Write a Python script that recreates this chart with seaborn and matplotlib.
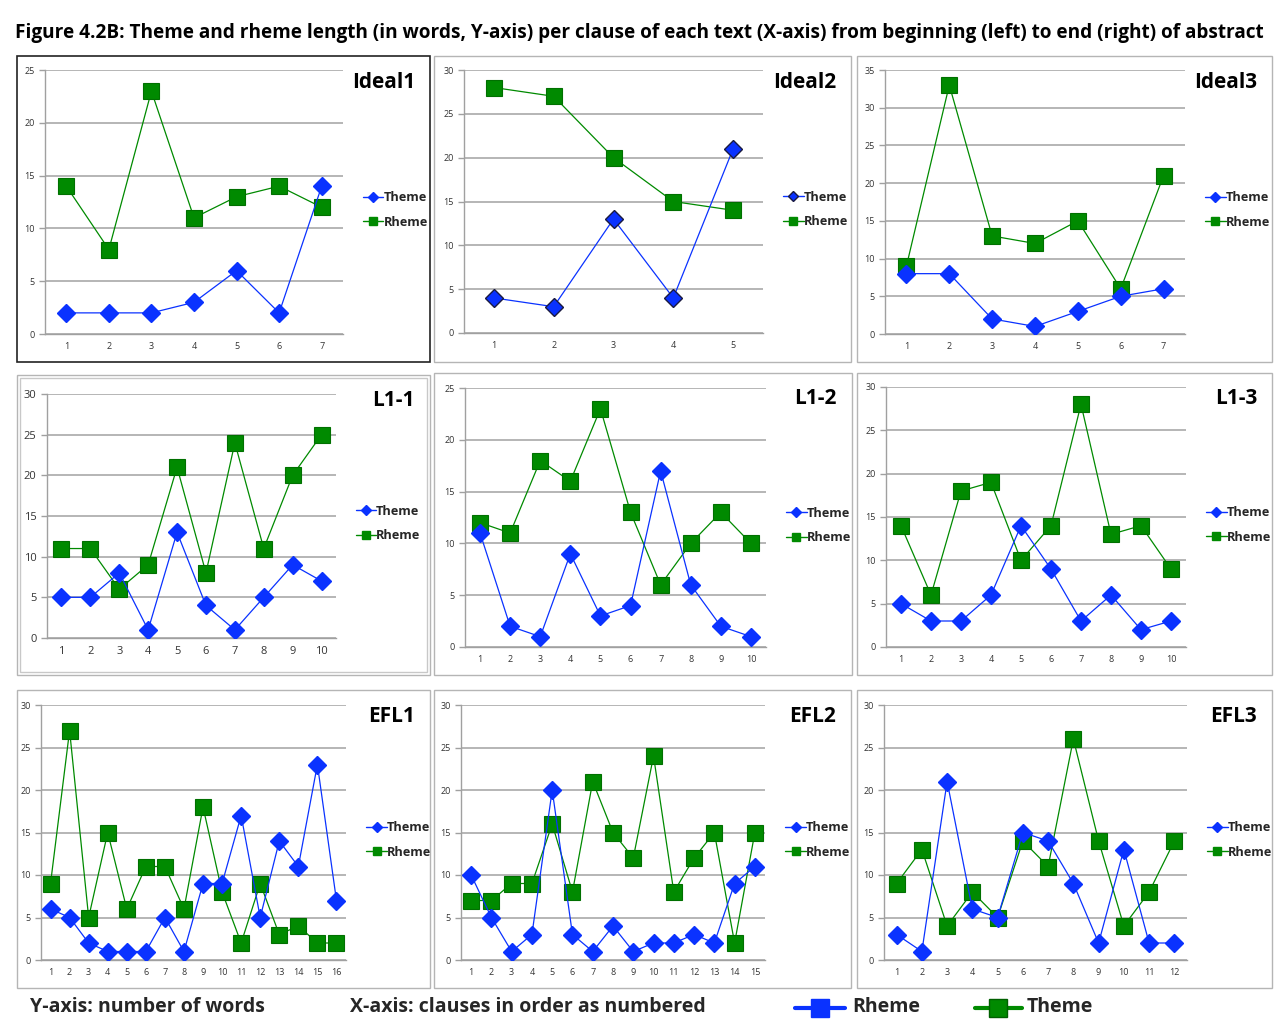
import pandas as pd
import matplotlib.pyplot as plt
import seaborn as sns
from matplotlib.patches import Rectangle
from matplotlib.lines import Line2D

sns.set_theme(style='white')
plt.rcParams['font.family'] = ['Open Sans', 'DejaVu Sans']

# Data: words per clause
panel_names = ['Ideal1', 'Ideal2', 'Ideal3', 'L1-1', 'L1-2', 'L1-3', 'EFL1', 'EFL2', 'EFL3']
y_max = [25, 30, 35, 30, 25, 30, 30, 30, 30]

theme_ideal1 = [2, 2, 2, 3, 6, 2, 14]
rheme_ideal1 = [14, 8, 23, 11, 13, 14, 12]
theme_ideal2 = [4, 3, 13, 4, 21]
rheme_ideal2 = [28, 27, 20, 15, 14]
theme_ideal3 = [8, 8, 2, 1, 3, 5, 6]
rheme_ideal3 = [9, 33, 13, 12, 15, 6, 21]
theme_l1_1 = [5, 5, 8, 1, 13, 4, 1, 5, 9, 7]
rheme_l1_1 = [11, 11, 6, 9, 21, 8, 24, 11, 20, 25]
theme_l1_2 = [11, 2, 1, 9, 3, 4, 17, 6, 2, 1]
rheme_l1_2 = [12, 11, 18, 16, 23, 13, 6, 10, 13, 10]
theme_l1_3 = [5, 3, 3, 6, 14, 9, 3, 6, 2, 3]
rheme_l1_3 = [14, 6, 18, 19, 10, 14, 28, 13, 14, 9]
theme_efl1 = [6, 5, 2, 1, 1, 1, 5, 1, 9, 9, 17, 5, 14, 11, 23, 7]
rheme_efl1 = [9, 27, 5, 15, 6, 11, 11, 6, 18, 8, 2, 9, 3, 4, 2, 2]
theme_efl2 = [10, 5, 1, 3, 20, 3, 1, 4, 1, 2, 2, 3, 2, 9, 11]
rheme_efl2 = [7, 7, 9, 9, 16, 8, 21, 15, 12, 24, 8, 12, 15, 2, 15]
theme_efl3 = [3, 1, 21, 6, 5, 15, 14, 9, 2, 13, 2, 2]
rheme_efl3 = [9, 13, 4, 8, 5, 14, 11, 26, 14, 4, 8, 14]

themes = [theme_ideal1, theme_ideal2, theme_ideal3, theme_l1_1, theme_l1_2,
          theme_l1_3, theme_efl1, theme_efl2, theme_efl3]
rhemes = [rheme_ideal1, rheme_ideal2, rheme_ideal3, rheme_l1_1, rheme_l1_2,
          rheme_l1_3, rheme_efl1, rheme_efl2, rheme_efl3]

BLUE = '#0a32ff'
GREEN = '#008a00'
W, H = 1281, 1030

# pixel boxes: panel frame (x0, y0, x1, y1) and plot area inside it
frames = [(17, 56, 430, 362), (434, 56, 851, 362), (857, 56, 1272, 362),
          (17, 375, 430, 675), (434, 373, 852, 675), (857, 373, 1272, 675),
          (17, 690, 430, 988), (434, 690, 851, 988), (857, 690, 1272, 988)]
plot_areas = [(45, 70, 343, 334), (464, 70, 763, 333), (885, 70, 1185, 334),
              (47, 394, 336, 638), (465, 388, 766, 647), (886, 387, 1186, 647),
              (41, 705, 346, 960), (461, 705, 765, 960), (884, 705, 1187, 960)]


def px_axes(fig, box):
    x0, y0, x1, y1 = box
    return fig.add_axes([x0 / W, 1 - y1 / H, (x1 - x0) / W, (y1 - y0) / H])


fig = plt.figure(figsize=(W / 100, H / 100), dpi=100)

# title, shrunk to span the same width as in the original
title = fig.text(15 / W, 1 - 33 / H,
                 'Figure 4.2B: Theme and rheme length (in words, Y-axis) per clause of each text '
                 '(X-axis) from beginning (left) to end (right) of abstract',
                 fontsize=15, fontweight='bold', va='center', ha='left', color='black')
renderer = fig.canvas.get_renderer()
tw = title.get_window_extent(renderer).width
title.set_fontsize(15 * 1248 / tw)

for i, name in enumerate(panel_names):
    fx0, fy0, fx1, fy1 = frames[i]
    edge = '#222222' if i == 0 else '#b5b5b5'
    lw = 1.2 if i == 0 else 1.0
    fig.add_artist(Rectangle((fx0 / W, 1 - fy1 / H), (fx1 - fx0) / W, (fy1 - fy0) / H,
                             transform=fig.transFigure, fill=False, edgecolor=edge, lw=lw))
    if i == 3:
        fig.add_artist(Rectangle(((fx0 + 3) / W, 1 - (fy1 - 3) / H), (fx1 - fx0 - 6) / W,
                                 (fy1 - fy0 - 6) / H, transform=fig.transFigure,
                                 fill=False, edgecolor='#c8c8c8', lw=1.0))

    ax = px_axes(fig, plot_areas[i])
    n = len(themes[i])
    df = pd.DataFrame({'clause': list(range(1, n + 1)) * 2,
                       'words': themes[i] + rhemes[i],
                       'part': ['Theme'] * n + ['Rheme'] * n})
    edge_theme = '#1a1a40' if i == 1 else BLUE
    sns.lineplot(data=df[df.part == 'Theme'], x='clause', y='words', ax=ax, color=BLUE,
                 marker='D', markersize=9, markeredgecolor=edge_theme, markeredgewidth=1,
                 linewidth=0.9, zorder=4)
    sns.lineplot(data=df[df.part == 'Rheme'], x='clause', y='words', ax=ax, color=GREEN,
                 marker='s', markersize=11, markeredgecolor='#007000', markeredgewidth=0.8,
                 linewidth=0.9, zorder=3)

    ax.set_xlim(0.5, n + 0.5)
    ax.set_ylim(0, y_max[i])
    ax.set_yticks(range(0, y_max[i] + 1, 5))
    ax.set_xticks(range(1, n + 1))
    ax.set_xticks([k + 0.5 for k in range(0, n + 1)], minor=True)
    ax.set_xlabel('')
    ax.set_ylabel('')
    ax.yaxis.grid(True, color='#a9a9a9', lw=1.2)
    ax.set_axisbelow(True)
    for s in ['top', 'right']:
        ax.spines[s].set_visible(False)
    for s in ['left', 'bottom']:
        ax.spines[s].set_color('#a0a0a0')
        ax.spines[s].set_linewidth(1.0)
    fs = 8 if i == 3 else 6.5
    ax.tick_params(axis='x', which='major', length=0, labelsize=fs, colors='#333333', pad=6)
    ax.tick_params(axis='x', which='minor', length=4, color='#a0a0a0', width=1, direction='out')
    ax.tick_params(axis='y', length=4, color='#a0a0a0', width=1, direction='out',
                   labelsize=fs, labelcolor='#333333', left=True)

    handles = [Line2D([], [], color=BLUE, lw=1, marker='D', markersize=5,
                      markeredgecolor=edge_theme if i == 1 else BLUE),
               Line2D([], [], color=GREEN, lw=1, marker='s', markersize=6)]
    ax.legend(handles, ['Theme', 'Rheme'], loc='center left', bbox_to_anchor=(1.05, 0.47),
              frameon=False, prop={'weight': 'bold', 'size': 9.2}, handlelength=1.6,
              handletextpad=0.0, labelspacing=0.9, borderaxespad=0)

    fig.text((fx1 - 15) / W, 1 - (fy0 + 26) / H, name, ha='right', va='center',
             fontsize=15, fontweight='bold', color='black')

# footer
fig.text(30 / W, 1 - 1007 / H, 'Y-axis: number of words', fontsize=14, fontweight='bold',
         va='center', ha='left')
fig.text(350 / W, 1 - 1007 / H, 'X-axis: clauses in order as numbered', fontsize=14,
         fontweight='bold', va='center', ha='left')
fig.add_artist(Line2D([795 / W, 845 / W], [1 - 1008 / H] * 2, color=BLUE, lw=3,
                      transform=fig.transFigure))
fig.add_artist(Line2D([820 / W], [1 - 1008 / H], color=BLUE, marker='s', markersize=13,
                      transform=fig.transFigure))
fig.text(852 / W, 1 - 1007 / H, 'Rheme', fontsize=14, fontweight='bold', va='center', ha='left')
fig.add_artist(Line2D([975 / W, 1022 / W], [1 - 1008 / H] * 2, color=GREEN, lw=3,
                      transform=fig.transFigure))
fig.add_artist(Line2D([998 / W], [1 - 1008 / H], color=GREEN, marker='s', markersize=13,
                      markeredgecolor='#006000', transform=fig.transFigure))
fig.text(1027 / W, 1 - 1007 / H, 'Theme', fontsize=14, fontweight='bold', va='center', ha='left')

fig.savefig('out.png', dpi=100, facecolor='white')
